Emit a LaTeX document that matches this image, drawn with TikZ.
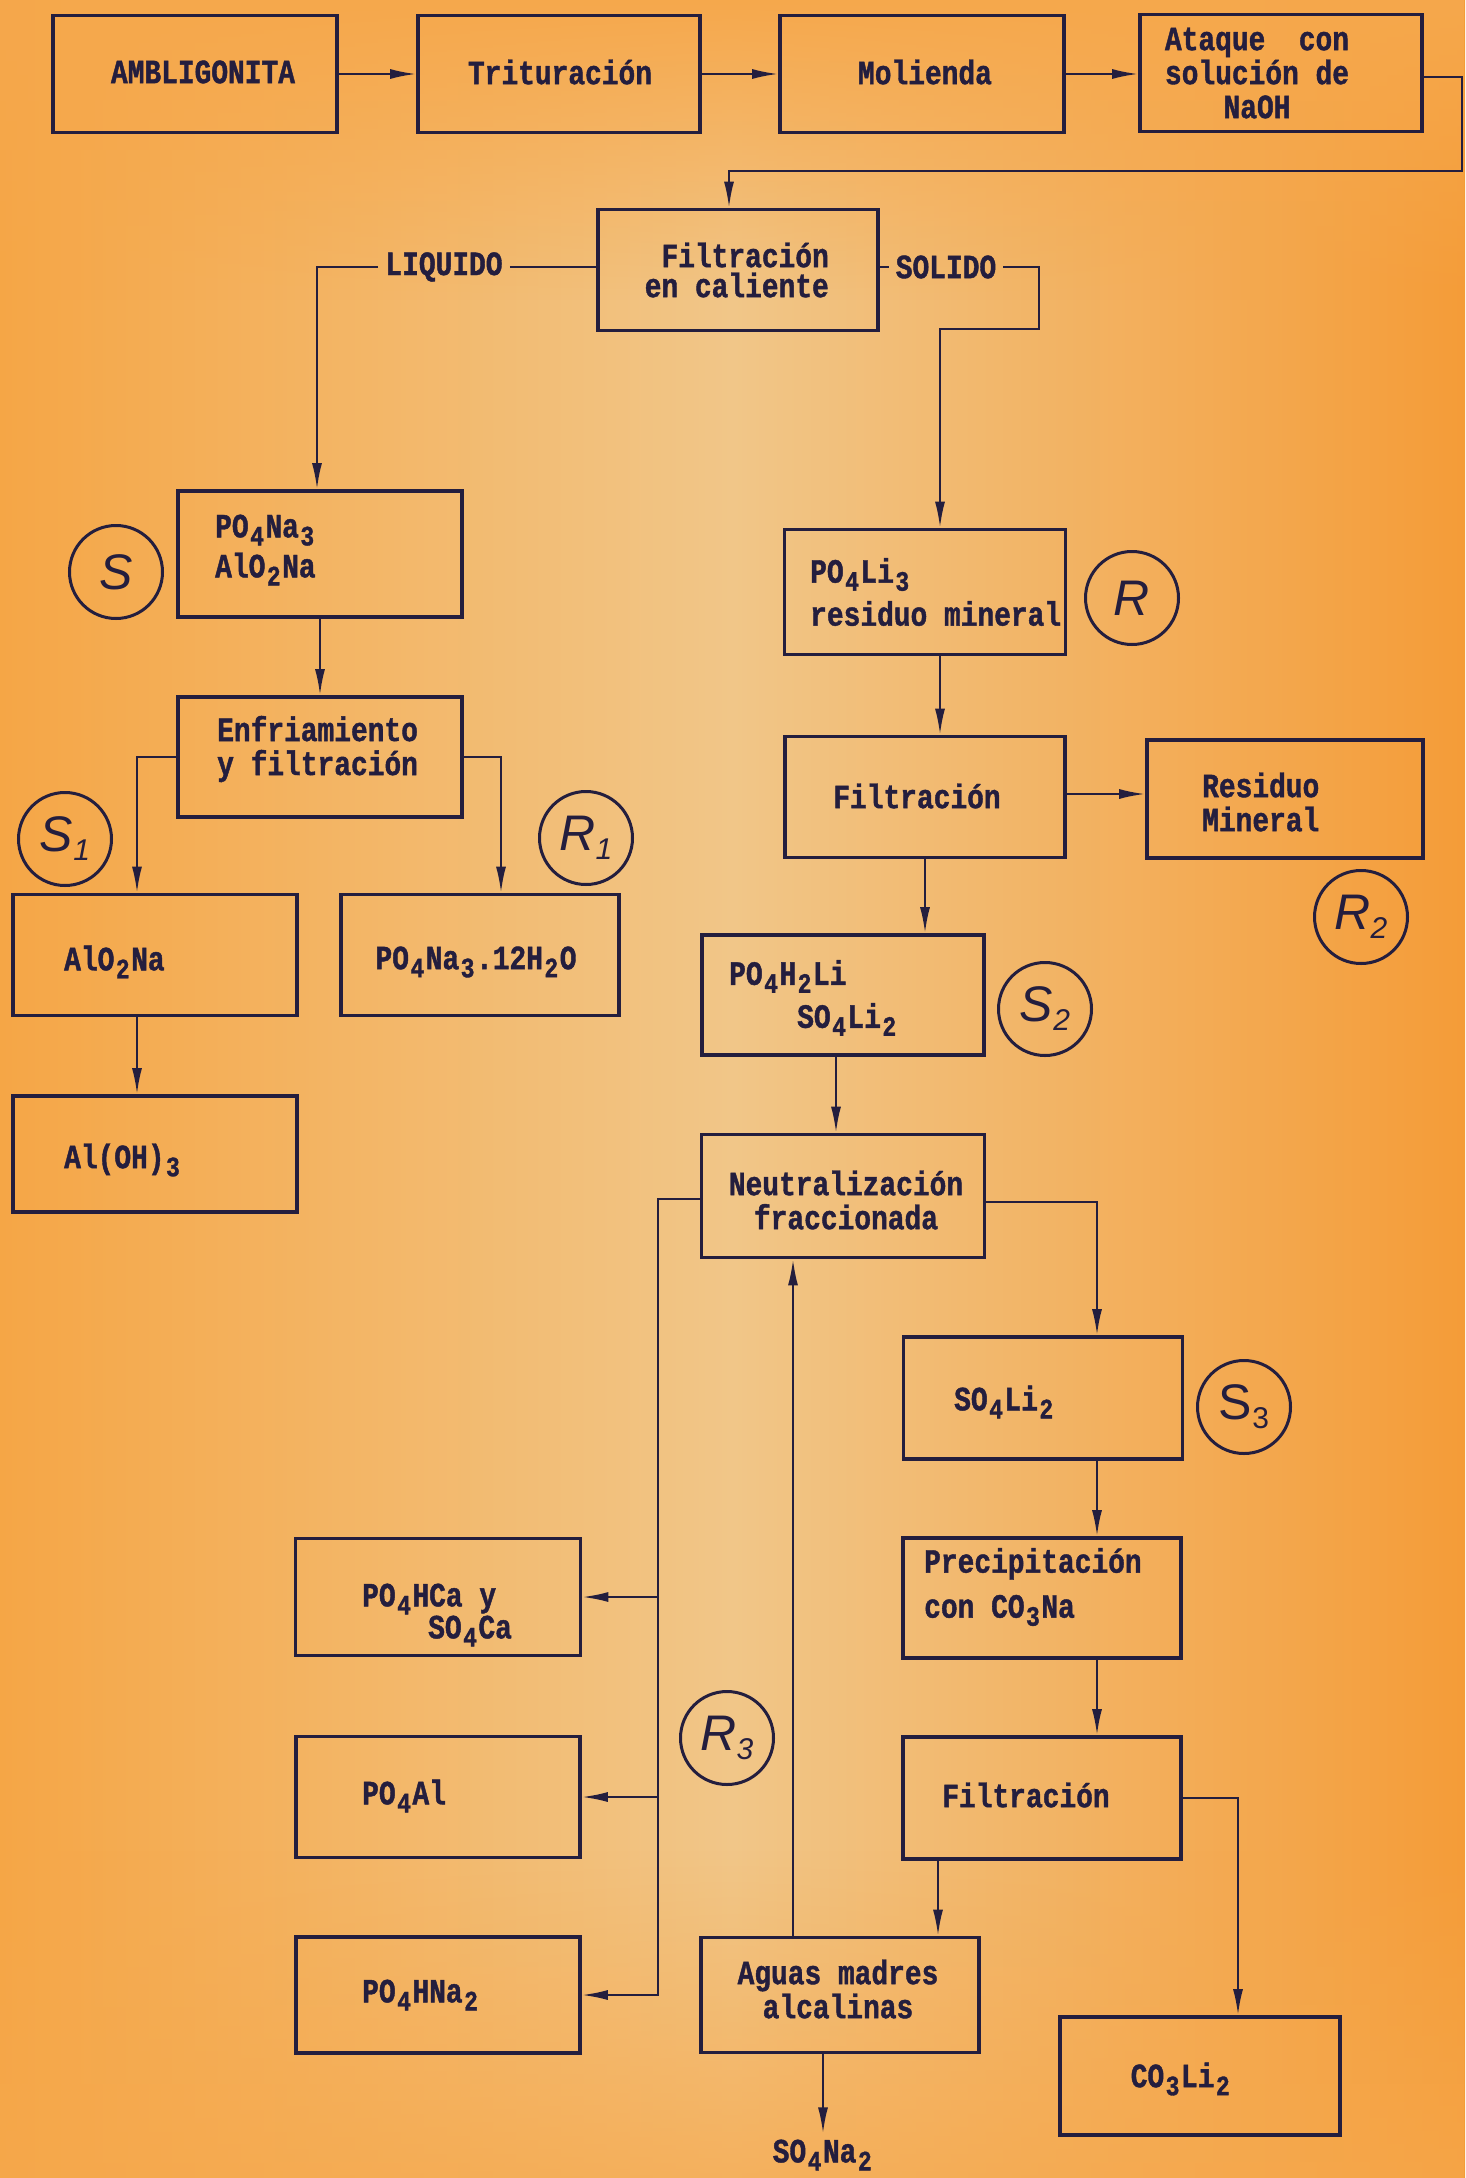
\documentclass[tikz,border=0pt]{standalone}
\usepackage{fontspec}
\setmainfont{Liberation Serif}
\setmonofont{Liberation Mono}
\setsansfont{Liberation Sans}
\newfontfamily\tw{Liberation Mono}[FakeStretch=0.82,BoldFeatures={FakeBold=1.2}]
\usetikzlibrary{arrows.meta,fadings}
\definecolor{ink}{RGB}{36,30,62}
\definecolor{paperL}{RGB}{245,166,70}
\definecolor{paperM}{RGB}{241,198,136}
\definecolor{paperR}{RGB}{244,156,56}
\definecolor{paperT}{RGB}{246,168,76}
\tikzfading[name=topfade, top color=transparent!0, bottom color=transparent!100]
\tikzfading[name=botfade, top color=transparent!100, bottom color=transparent!0]
\newcommand{\sbs}[1]{\makebox[16.8pt][c]{\raisebox{-8pt}{\fontsize{28}{28}\selectfont #1}}}
\newcommand{\tsb}[1]{\raisebox{-9pt}{\fontsize{30}{30}\selectfont #1}}
\begin{document}
\begin{tikzpicture}[x=1pt,y=-1pt,
  box/.style={draw=ink,line width=3.6pt,inner sep=0pt,rectangle},
  txt/.style={text=ink,inner sep=0pt,font=\fontsize{34}{34}\selectfont\tw\bfseries},
  lbl/.style={txt,inner sep=7pt},
  flow/.style={draw=ink,line width=2.2pt,-{Latex[length=26pt,width=10pt]}},
  wire/.style={draw=ink,line width=2.2pt},
  tag/.style={circle,draw=ink,line width=3pt,minimum size=93pt,inner sep=0pt,text=ink,font=\fontsize{50}{50}\selectfont\sffamily\itshape}]
% paper
\fill[left color=paperL,right color=paperR,middle color=paperM] (0,0) rectangle (1465,2178);
\fill[paperT,path fading=topfade] (0,0) rectangle (1465,300);
\fill[paperT,path fading=botfade,fill opacity=0.7] (0,1850) rectangle (1465,2178);
\useasboundingbox (0,0) rectangle (1465,2178);

% boxes
\node[box,minimum width=284pt,minimum height=117pt] (amb) at (195,74) {};
\node[box,minimum width=282pt,minimum height=117pt] (trit) at (559,74) {};
\node[box,minimum width=284pt,minimum height=117pt] (mol) at (922,74) {};
\node[box,minimum width=282pt,minimum height=117pt] (ataq) at (1281,73) {};
\node[box,minimum width=280pt,minimum height=121pt] (fc) at (738,270) {};
\node[box,minimum width=284pt,minimum height=126pt] (s) at (320,554) {};
\node[box,minimum width=284pt,minimum height=120pt] (enf) at (320,757) {};
\node[box,minimum width=284pt,minimum height=121pt] (alo) at (155,955) {};
\node[box,minimum width=278pt,minimum height=121pt] (pna) at (480,955) {};
\node[box,minimum width=284pt,minimum height=116pt] (aloh) at (155,1154) {};
\node[box,minimum width=281pt,minimum height=125pt] (pli) at (925,592) {};
\node[box,minimum width=280pt,minimum height=121pt] (filt1) at (925,797) {};
\node[box,minimum width=276pt,minimum height=118pt] (res) at (1285,799) {};
\node[box,minimum width=282pt,minimum height=120pt] (ph2) at (843,995) {};
\node[box,minimum width=283pt,minimum height=123pt] (neu) at (843,1196) {};
\node[box,minimum width=279pt,minimum height=122pt] (so4) at (1043,1398) {};
\node[box,minimum width=278pt,minimum height=120pt] (prec) at (1042,1598) {};
\node[box,minimum width=278pt,minimum height=122pt] (filt2) at (1042,1798) {};
\node[box,minimum width=278pt,minimum height=115pt] (agu) at (840,1995) {};
\node[box,minimum width=280pt,minimum height=118pt] (co3) at (1200,2076) {};
\node[box,minimum width=285pt,minimum height=117pt] (pca) at (438,1597) {};
\node[box,minimum width=284pt,minimum height=121pt] (pal) at (438,1797) {};
\node[box,minimum width=284pt,minimum height=116pt] (phn) at (438,1995) {};

% texts
\node[txt] (ambT) at (203,72) {AMBLIGONITA};
\node[txt] (tritT) at (560,72) {Trituración};
\node[txt] (molT) at (925,72) {Molienda};
\node[txt,align=center] (ataqT) at (1257,73) {Ataque\ \ con\\solución de\\NaOH};
\node[txt,align=right,anchor=east] (fcT) at (829,270) {Filtración\\[-4pt]en caliente};
\node[lbl] (liq) at (444,267) {LIQUIDO};
\node[lbl] (sol) at (946,267) {SOLIDO};
\node[txt,align=left,anchor=west] (sT) at (215,550) {PO\sbs{4}Na\sbs{3}\\[6pt]AlO\sbs{2}Na};
\node[txt,align=left,anchor=west] (enfT) at (217,749) {Enfriamiento\\y filtración};
\node[txt,anchor=west] (aloT) at (64,962) {AlO\sbs{2}Na};
\node[txt] (pnaT) at (476,962) {PO\sbs{4}Na\sbs{3}.12H\sbs{2}O};
\node[txt,anchor=west] (alohT) at (64,1160) {Al(OH)\sbs{3}};
\node[txt,align=left,anchor=west] (pliT) at (810,592) {PO\sbs{4}Li\sbs{3}\\[9pt]residuo mineral};
\node[txt] (filt1T) at (917,796) {Filtración};
\node[txt,align=left,anchor=west] (resT) at (1202,802) {Residuo\\Mineral};
\node[txt,align=left,anchor=west] (ph2T) at (729,998) {PO\sbs{4}H\sbs{2}Li\\[9pt]\hspace*{68pt}SO\sbs{4}Li\sbs{2}};
\node[txt,align=center] (neuT) at (846,1200) {Neutralización\\fraccionada};
\node[txt,anchor=west] (so4T) at (954,1402) {SO\sbs{4}Li\sbs{2}};
\node[txt,align=left,anchor=west] (precT) at (924,1587) {Precipitación\\[11pt]con CO\sbs{3}Na};
\node[txt] (filt2T) at (1026,1795) {Filtración};
\node[txt,align=center] (aguT) at (838,1989) {Aguas madres\\alcalinas};
\node[txt] (co3T) at (1181,2079) {CO\sbs{3}Li\sbs{2}};
\node[txt] (sona) at (823,2155) {SO\sbs{4}Na\sbs{2}};
\node[txt,align=left,anchor=west] (pcaT) at (362,1615) {PO\sbs{4}HCa y\\[-2pt]\hspace*{66pt}SO\sbs{4}Ca};
\node[txt,anchor=west] (palT) at (362,1796) {PO\sbs{4}Al};
\node[txt,anchor=west] (phnT) at (362,1995) {PO\sbs{4}HNa\sbs{2}};

% circles
\node[tag] (tS) at (116,572) {S};
\node[tag] (tR) at (1132,598) {R};
\node[tag] (tS1) at (65,839) {S\tsb{1}};
\node[tag] (tR1) at (586,838) {R\tsb{1}};
\node[tag] (tR2) at (1361,917) {R\tsb{2}};
\node[tag] (tS2) at (1045,1009) {S\tsb{2}};
\node[tag,font=\fontsize{50}{50}\selectfont\sffamily] (tS3) at (1244,1407) {S\tsb{3}};
\node[tag] (tR3) at (727,1738) {R\tsb{3}};

% coordinates for bends
\coordinate (k1) at (1462,171);
\coordinate (k2) at (1039,329);
\coordinate (nr) at (1097,1202);
\coordinate (nl) at (658,1199);
\coordinate (fr) at (1238,1798);
\coordinate (fa) at (938,1900);
\coordinate (ua) at (793,1600);

% connectors
\draw[flow] (amb) -- (trit);
\draw[flow] (trit) -- (mol);
\draw[flow] (mol.east) -- (mol.east -| ataq.west);
\draw[flow] ([yshift=-4pt]ataq.east) -| (k1) -| ([xshift=-9pt]fc.north);
\draw[wire] (liq.east) -- (liq.east -| fc.west);
\draw[flow] (liq.west) -| ([xshift=-3pt]s.north);
\draw[wire] (fc.east |- sol.west) -- (sol.west);
\draw[flow] (sol.east) -| (k2) -| ([xshift=15pt]pli.north);
\draw[flow] (s) -- (enf);
\draw[flow] (enf.west) -| ([xshift=-18pt]alo.north);
\draw[flow] (enf.east) -| ([xshift=21pt]pna.north);
\draw[flow] ([xshift=-18pt]alo.south) -- ([xshift=-18pt]aloh.north);
\draw[flow] ([xshift=15pt]pli.south) -- ([xshift=15pt]filt1.north);
\draw[flow] ([yshift=3pt]filt1.east) -- ([yshift=3pt]filt1.east -| res.west);
\draw[flow] (filt1.south) -- (filt1.south |- ph2.north);
\draw[flow] ([xshift=-7pt]ph2.south) -- ([xshift=-7pt]ph2.south |- neu.north);
\draw[flow] (neu.east |- nr) -- (nr) -- (nr |- so4.north);
\draw[flow] (so4.south -| nr) -- (prec.north -| nr);
\draw[flow] (prec.south -| nr) -- (filt2.north -| nr);
\draw[flow] (filt2.east) -- (fr) -- (fr |- co3.north);
\draw[flow] (filt2.south -| fa) -- (agu.north -| fa);
\draw[flow] (agu.north -| ua) -- (neu.south -| ua);
\draw[flow,shorten >=6pt] (agu.south -| sona) -- (sona.north);
\draw[flow] (neu.west |- nl) -- (nl) |- (phn.east);
\draw[flow] (nl |- pca.east) -- (pca.east);
\draw[flow] (nl |- pal.east) -- (pal.east);
\end{tikzpicture}
\end{document}
